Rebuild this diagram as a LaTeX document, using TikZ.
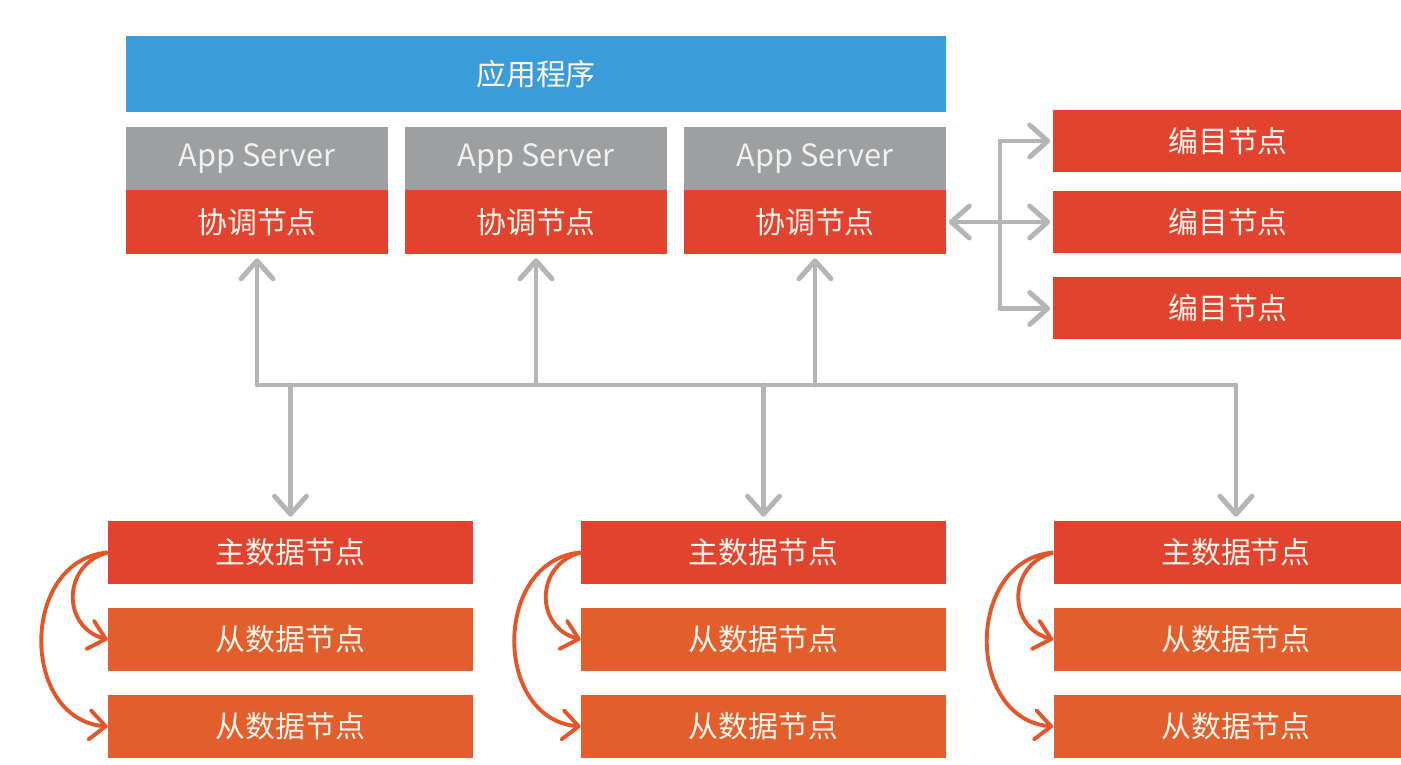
\documentclass[tikz,border=0pt]{standalone}
\usepackage{fontspec}
\setmainfont{Noto Sans CJK SC}
\usepackage{tikz}
\usetikzlibrary{arrows.meta}
\definecolor{appblue}{HTML}{3A9DDA}
\definecolor{srvgray}{HTML}{9D9FA1}
\definecolor{nodered}{HTML}{E2432E}
\definecolor{slvorange}{HTML}{E35E2D}
\definecolor{lnkgray}{HTML}{B3B5B6}
\definecolor{repl}{HTML}{E3562A}
\tikzset{
  box/.style={rectangle, inner sep=0pt, text=white!92!orange, font=\fontsize{17}{20}\selectfont},
  appbar/.style={box, fill=appblue, minimum width=16.4cm, minimum height=1.52cm},
  srvbox/.style={box, fill=srvgray, text=white!88!gray, minimum width=5.24cm, minimum height=1.26cm,
                 font=\fontsize{17.5}{21}\selectfont},
  crdbox/.style={box, fill=nodered, minimum width=5.24cm, minimum height=1.28cm},
  catbox/.style={box, fill=nodered, minimum width=7cm, minimum height=1.24cm},
  mstbox/.style={box, fill=nodered, minimum width=7.3cm, minimum height=1.26cm},
  slvbox/.style={box, fill=slvorange, minimum width=7.3cm, minimum height=1.26cm},
  link/.style={lnkgray, line width=2.8pt},
  garrow/.style={link, line cap=round, -{Straight Barb[length=3.6mm, width=6.4mm, round]}},
  gboth/.style={link, line cap=round, {Straight Barb[length=3.6mm, width=6.4mm, round]}-},
  rarrow/.style={repl, line width=2.2pt, -{Straight Barb[length=3.2mm, width=5.8mm, round]}},
}

\begin{document}
\begin{tikzpicture}
  \useasboundingbox[fill=white] (0,0) rectangle (28.02,15.3);

  % --- application layer ---
  \node[appbar] (app) at (10.72,13.82) {应用程序};

  % --- app servers with their coordinator nodes ---
  \foreach \i/\x in {1/5.14, 2/10.72, 3/16.30} {
    \node[srvbox] (srv\i) at (\x,12.13) {App Server};
    \node[crdbox] (crd\i) at (\x,10.86) {协调节点};
  }

  % --- catalog nodes on the right ---
  \node[catbox] (cat1) at (24.56,12.48) {编目节点};
  \node[catbox] (cat2) at (24.56,10.86) {编目节点};
  \node[catbox] (cat3) at (24.56,9.13) {编目节点};

  % --- data node groups: one master, two slaves each ---
  \foreach \i/\x in {1/5.81, 2/15.27, 3/24.72} {
    \node[mstbox] (mst\i) at (\x,4.25) {主数据节点};
    \node[slvbox] (slva\i) at (\x,2.51) {从数据节点};
    \node[slvbox] (slvb\i) at (\x,0.77) {从数据节点};
  }

  % --- shared bus between coordinators and data nodes ---
  \coordinate (bus) at (0,7.6);
  \draw[link] (crd1.south |- bus) -- (mst3.north |- bus);
  \foreach \i in {1,2,3} {
    \draw[garrow, shorten >=0.08cm] (crd\i.south |- bus) -- (crd\i.south);
    \draw[garrow, shorten >=0.08cm] (mst\i.north |- bus) -- (mst\i.north);
  }

  % --- coordinator <-> catalog links ---
  \coordinate (cbus) at (20.0,10.86);
  \draw[link] (cat1.west -| cbus) -- (cat3.west -| cbus);
  \draw[gboth, shorten <=0.05cm] (crd3.east) -- (cbus);
  \foreach \i in {1,2,3}
    \draw[garrow, shorten >=0.05cm] (cat\i.west -| cbus) -- (cat\i.west);

  % --- replication from master to slaves ---
  \foreach \i in {1,2,3} {
    \draw[rarrow] (mst\i.west) to[out=195, in=165, looseness=1.4] (slva\i.west);
    \draw[rarrow] (mst\i.west) to[out=185, in=175, looseness=1.3] (slvb\i.west);
  }
\end{tikzpicture}
\end{document}
